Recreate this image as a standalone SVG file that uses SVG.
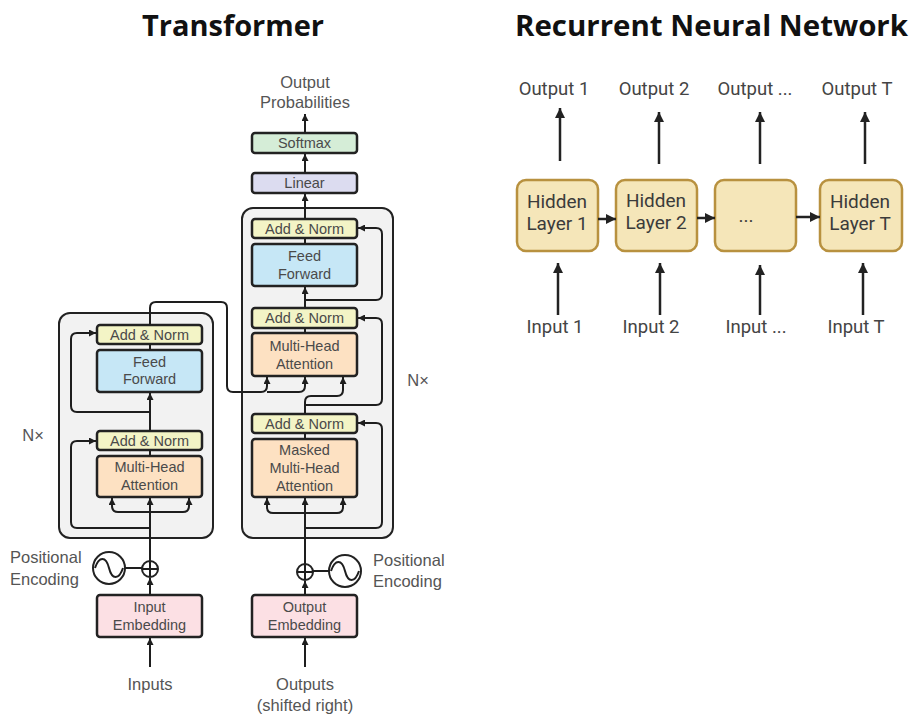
<svg xmlns="http://www.w3.org/2000/svg" width="914" height="714" viewBox="0 0 914 714">
<defs>
<marker id="ah" viewBox="0 0 10 10" refX="10" refY="5" markerWidth="7" markerHeight="7" markerUnits="userSpaceOnUse" orient="auto"><path d="M0,0 L10,5 L0,10 z" fill="#1e1e1e"/></marker>
<marker id="ah2" viewBox="0 0 10 10" refX="10" refY="5" markerWidth="11" markerHeight="10" markerUnits="userSpaceOnUse" orient="auto"><path d="M0,0 L10,5 L0,10 z" fill="#222"/></marker>
<style>
.title{font-family:"Open Sans","Liberation Sans",sans-serif;font-weight:700;font-size:29px;fill:#111;text-anchor:middle}
.t{font-family:"Liberation Sans",Arial,sans-serif;font-size:14.5px;fill:#4a4a4a;text-anchor:middle}
.o{font-family:"Liberation Sans",Arial,sans-serif;font-size:16.5px;fill:#555;text-anchor:middle}
.os{font-family:"Liberation Sans",Arial,sans-serif;font-size:16.5px;fill:#555;text-anchor:start}
.stack{fill:#f2f2f2;stroke:#222;stroke-width:2}
.box{stroke:#222;stroke-width:2.5}
.an{fill:#f3f4c6}
.ff{fill:#c6e7f6}
.mha{fill:#fde1c2}
.emb{fill:#fce0e4}
.lin{fill:#dcdcf0}
.sm{fill:#d5edd7}
.ln{fill:none;stroke:#1e1e1e;stroke-width:2}
.arr{marker-end:url(#ah)}
.rbox{fill:#f5e6b9;stroke:#b8913f;stroke-width:2.5}
.rt{font-family:Roboto,"Liberation Sans",sans-serif;font-size:19px;fill:#3b3b3b;text-anchor:middle}
.rl{font-family:Roboto,"Liberation Sans",sans-serif;font-size:18.5px;fill:#444;text-anchor:middle}
.rln{fill:none;stroke:#222;stroke-width:2.5;marker-end:url(#ah2)}
</style>
</defs>
<rect width="914" height="714" fill="#ffffff"/>

<text class="title" x="233" y="36" textLength="182" lengthAdjust="spacingAndGlyphs">Transformer</text>
<text class="title" x="711.5" y="36" textLength="393" lengthAdjust="spacingAndGlyphs">Recurrent Neural Network</text>

<!-- Encoder -->
<g id="encoder-stack"><rect class="stack" x="59" y="313" width="154" height="225" rx="11"/></g>
<g id="decoder-stack"><rect class="stack" x="242" y="208" width="151" height="330" rx="11"/></g>

<g id="enc-addnorm2"><rect class="box an" x="97" y="325" width="105" height="19" rx="3"/><text class="t" x="149.5" y="340">Add &amp; Norm</text></g>
<g id="enc-ff"><rect class="box ff" x="97" y="350" width="105" height="42" rx="3"/><text class="t" x="149.5" y="367">Feed</text><text class="t" x="149.5" y="384">Forward</text></g>
<g id="enc-addnorm1"><rect class="box an" x="97" y="431" width="105" height="19" rx="3"/><text class="t" x="149.5" y="446">Add &amp; Norm</text></g>
<g id="enc-mha"><rect class="box mha" x="97" y="456" width="105" height="41" rx="3"/><text class="t" x="149.5" y="472">Multi-Head</text><text class="t" x="149.5" y="490">Attention</text></g>
<g id="enc-emb"><rect class="box emb" x="97" y="595" width="105" height="42" rx="3"/><text class="t" x="149.5" y="612">Input</text><text class="t" x="149.5" y="630">Embedding</text></g>
<g id="enc-nx"><text class="o" x="33" y="441">N×</text></g>
<g id="enc-pe"><circle cx="109" cy="568" r="16" fill="#fff" stroke="#222" stroke-width="2"/><path class="ln" d="M95,568 C99,556 106,556 109,568 C112,580 119,580 123,568"/><text class="os" x="10" y="563">Positional</text><text class="os" x="10" y="585">Encoding</text></g>
<g id="enc-plus"><circle cx="150" cy="569" r="8" fill="#fff" stroke="#222" stroke-width="2"/><path class="ln" d="M143,569 H157 M150,562 V576" stroke-width="1.6"/></g>
<g id="enc-inputs"><text class="o" x="150" y="690">Inputs</text></g>

<!-- Decoder -->
<g id="dec-out"><text class="o" x="305" y="88">Output</text><text class="o" x="305" y="108">Probabilities</text></g>
<g id="dec-softmax"><rect class="box sm" x="252" y="133" width="105" height="20" rx="3"/><text class="t" x="304.5" y="148">Softmax</text></g>
<g id="dec-linear"><rect class="box lin" x="252" y="173" width="105" height="20" rx="3"/><text class="t" x="304.5" y="188">Linear</text></g>
<g id="dec-addnorm3"><rect class="box an" x="252" y="219" width="105" height="19" rx="3"/><text class="t" x="304.5" y="234">Add &amp; Norm</text></g>
<g id="dec-ff"><rect class="box ff" x="252" y="244" width="105" height="42" rx="3"/><text class="t" x="304.5" y="261">Feed</text><text class="t" x="304.5" y="279">Forward</text></g>
<g id="dec-addnorm2"><rect class="box an" x="252" y="308" width="105" height="20" rx="3"/><text class="t" x="304.5" y="323">Add &amp; Norm</text></g>
<g id="dec-mha"><rect class="box mha" x="252" y="333" width="105" height="43" rx="3"/><text class="t" x="304.5" y="351">Multi-Head</text><text class="t" x="304.5" y="369">Attention</text></g>
<g id="dec-addnorm1"><rect class="box an" x="252" y="414" width="105" height="19" rx="3"/><text class="t" x="304.5" y="429">Add &amp; Norm</text></g>
<g id="dec-mmha"><rect class="box mha" x="252" y="439" width="105" height="58" rx="3"/><text class="t" x="304.5" y="455">Masked</text><text class="t" x="304.5" y="473">Multi-Head</text><text class="t" x="304.5" y="491">Attention</text></g>
<g id="dec-emb"><rect class="box emb" x="252" y="595" width="105" height="42" rx="3"/><text class="t" x="304.5" y="612">Output</text><text class="t" x="304.5" y="630">Embedding</text></g>
<g id="dec-nx"><text class="o" x="418" y="386">N×</text></g>
<g id="dec-pe"><circle cx="345" cy="571" r="16" fill="#fff" stroke="#222" stroke-width="2"/><path class="ln" d="M331,571 C335,559 342,559 345,571 C348,583 355,583 359,571"/><text class="os" x="373" y="566">Positional</text><text class="os" x="373" y="587">Encoding</text></g>
<g id="dec-plus"><circle cx="305" cy="572" r="8" fill="#fff" stroke="#222" stroke-width="2"/><path class="ln" d="M298,572 H312 M305,565 V579" stroke-width="1.6"/></g>
<g id="dec-outputs"><text class="o" x="305" y="690">Outputs</text><text class="o" x="305" y="711">(shifted right)</text></g>

<!-- RNN nodes -->
<g id="rnn-h1"><rect class="rbox" x="517" y="180" width="81" height="71" rx="9"/><text class="rt" x="557" y="208">Hidden</text><text class="rt" x="557" y="230">Layer 1</text></g>
<g id="rnn-h2"><rect class="rbox" x="616" y="180" width="81" height="71" rx="9"/><text class="rt" x="656" y="207">Hidden</text><text class="rt" x="656" y="229">Layer 2</text></g>
<g id="rnn-h3"><rect class="rbox" x="715" y="180" width="81" height="71" rx="9"/><text class="rt" x="746" y="222">...</text></g>
<g id="rnn-h4"><rect class="rbox" x="820" y="180" width="82" height="71" rx="9"/><text class="rt" x="860" y="208">Hidden</text><text class="rt" x="860" y="230">Layer T</text></g>
<g id="rnn-labels">
<text class="rl" x="554" y="95">Output 1</text><text class="rl" x="654" y="95">Output 2</text><text class="rl" x="755" y="95">Output ...</text><text class="rl" x="857" y="95">Output T</text>
<text class="rl" x="555" y="333">Input 1</text><text class="rl" x="651" y="333">Input 2</text><text class="rl" x="756" y="333">Input ...</text><text class="rl" x="856" y="333">Input T</text>
</g>

<!-- Connectors -->
<g id="connectors">
<path class="ln arr" d="M150,667 V638"/>
<path class="ln arr" d="M150,595 V578"/>
<path class="ln arr" d="M150,561 V498"/>
<path class="ln" d="M125,568 H142"/>
<path class="ln arr" d="M150,512 H118 Q112,512 112,506 V498"/>
<path class="ln arr" d="M150,512 H183 Q189,512 189,506 V498"/>
<path class="ln arr" d="M150,528 H77 Q71,528 71,522 V447 Q71,441 77,441 H96"/>
<path class="ln" d="M150,456 V450"/>
<path class="ln arr" d="M150,431 V393"/>
<path class="ln arr" d="M150,412 H77 Q71,412 71,406 V339 Q71,333 77,333 H96"/>
<path class="ln" d="M150,350 V344"/>
<path class="ln arr" d="M150,325 V308 Q150,302 156,302 H221 Q227,302 227,308 V386 Q227,392 233,392 H261 Q267,392 267,386 V377"/>
<path class="ln arr" d="M267,392 H299 Q305,392 305,386 V377"/>

<path class="ln arr" d="M305,667 V638"/>
<path class="ln arr" d="M305,595 V581"/>
<path class="ln arr" d="M305,564 V498"/>
<path class="ln" d="M312,571 H329"/>
<path class="ln arr" d="M305,513 H273 Q267,513 267,507 V498"/>
<path class="ln arr" d="M305,513 H337 Q343,513 343,507 V498"/>
<path class="ln arr" d="M305,528 H376 Q382,528 382,522 V429 Q382,423 376,423 H358"/>
<path class="ln" d="M305,439 V433"/>
<path class="ln arr" d="M305,414 V402 Q305,396 311,396 H337 Q343,396 343,390 V377"/>
<path class="ln arr" d="M305,405 H376 Q382,405 382,399 V324 Q382,318 376,318 H358"/>
<path class="ln" d="M305,333 V328"/>
<path class="ln arr" d="M305,308 V287"/>
<path class="ln arr" d="M305,300 H376 Q382,300 382,294 V234 Q382,228 376,228 H358"/>
<path class="ln" d="M305,244 V238"/>
<path class="ln arr" d="M305,219 V194"/>
<path class="ln arr" d="M305,173 V154"/>
<path class="ln arr" d="M305,133 V114"/>

<path class="rln" d="M560,161 V108"/>
<path class="rln" d="M659,164 V112"/>
<path class="rln" d="M760,164 V112"/>
<path class="rln" d="M865,164 V112"/>
<path class="rln" d="M558,315 V263"/>
<path class="rln" d="M660,315 V263"/>
<path class="rln" d="M760,315 V265"/>
<path class="rln" d="M863,315 V263"/>
<path class="rln" d="M598,219 H616"/>
<path class="rln" d="M697,218 H715"/>
<path class="rln" d="M796,217 H820"/>
</g>
</svg>
